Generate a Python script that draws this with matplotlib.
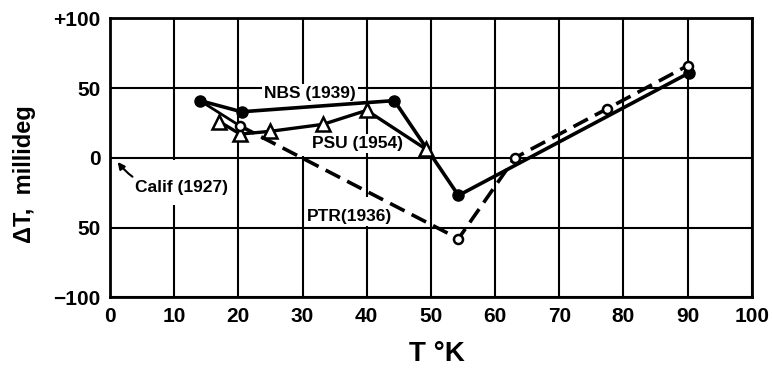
import matplotlib.pyplot as plt
import numpy as np

# Temperature-scale differences, Delta T (millideg) against T (K)
nbs_t = [14.0, 20.5, 44.3, 54.3, 90.3]
nbs_dt = [41, 33, 41, -27, 61]

psu_t = [17.0, 20.3, 25.0, 33.2, 40.0, 49.3]
psu_dt = [26, 17, 19, 24, 34, 6]

ptr_t = [14.0, 20.2, 54.3, 63.1, 77.4, 90.0]
ptr_dt = [41, 23, -58, 0, 35, 66]

calif_t = 1.2
calif_dt = -3

x_ticks = list(range(0, 101, 10))
y_ticks = [-100, -50, 0, 50, 100]
y_ticklabels = ["\u2212100", "50", "0", "50", "+100"]

plt.rcParams["font.family"] = ["Liberation Sans", "DejaVu Sans"]
plt.rcParams["font.weight"] = "bold"

fig = plt.figure(figsize=(7.72, 3.72), dpi=100)
ax = fig.add_axes([0.1425, 0.2008, 0.8312, 0.75])

ax.set_xlim(0, 100)
ax.set_ylim(-100, 100)
ax.set_xticks(x_ticks)
ax.set_yticks(y_ticks)
ax.set_yticklabels(y_ticklabels)
ax.tick_params(length=0, labelsize=15, pad=7)
ax.tick_params(axis="y", pad=7)
for lbl in ax.get_xticklabels() + ax.get_yticklabels():
    lbl.set_fontweight("bold")

ax.set_axisbelow(True)
ax.grid(True, color="black", lw=1.5)
for s in ax.spines.values():
    s.set_linewidth(2)

# gaps left in the grid around the lettering
ax.vlines(30, 1.5, 42, color="white", lw=3, zorder=0.8)
ax.vlines(10, -34, -1.5, color="white", lw=3, zorder=0.8)
ax.vlines(40, -36, -28, color="white", lw=3, zorder=0.8)

# NBS (1939): filled circles, solid line
ax.plot(nbs_t, nbs_dt, color="black", lw=2.6, marker="o", ms=8,
        mfc="black", mec="black", zorder=4)

# PSU (1954): open triangles, solid line
ax.plot(psu_t, psu_dt, color="black", lw=2.4, marker="^", ms=10,
        mfc="white", mec="black", mew=1.8, zorder=5)

# PTR (1936): open circles, solid first leg then dashed
ax.plot(ptr_t[:2], ptr_dt[:2], color="black", lw=2.0, zorder=3)
ax.plot(ptr_t[1:], ptr_dt[1:], color="black", lw=2.6, dashes=(4.5, 2.2),
        marker="o", ms=6.5, mfc="white", mec="black", mew=1.8, zorder=6)

box = dict(facecolor="white", edgecolor="none", pad=1.5)
ax.text(31.2, 46, "NBS (1939)", ha="center", va="center", fontsize=12.5,
        fontweight="bold", bbox=box, zorder=1)
ax.text(38.5, 10, "PSU (1954)", ha="center", va="center", fontsize=12.5,
        fontweight="bold", bbox=box, zorder=1)
ax.text(37.3, -42, "PTR(1936)", ha="center", va="center", fontsize=12.5,
        fontweight="bold", bbox=box, zorder=1)
ax.annotate("Calif (1927)", xy=(calif_t, calif_dt), xytext=(11.1, -21),
            ha="center", va="center", fontsize=12.5, fontweight="bold",
            bbox=box, zorder=1,
            arrowprops=dict(arrowstyle="-|>", color="black", lw=1.5,
                            mutation_scale=10, shrinkA=1, shrinkB=0,
                            connectionstyle="arc3,rad=-0.3"))

ax.set_xlabel("T \u00b0K", fontsize=20, fontweight="bold")
ax.xaxis.set_label_coords(0.51, -0.155)
ax.xaxis.label.set_va("top")
ax.set_ylabel("\u0394T,  millideg", fontsize=17, fontweight="bold")
ax.yaxis.set_label_coords(-0.115, 0.44)

fig.savefig("out.png", dpi=100)
